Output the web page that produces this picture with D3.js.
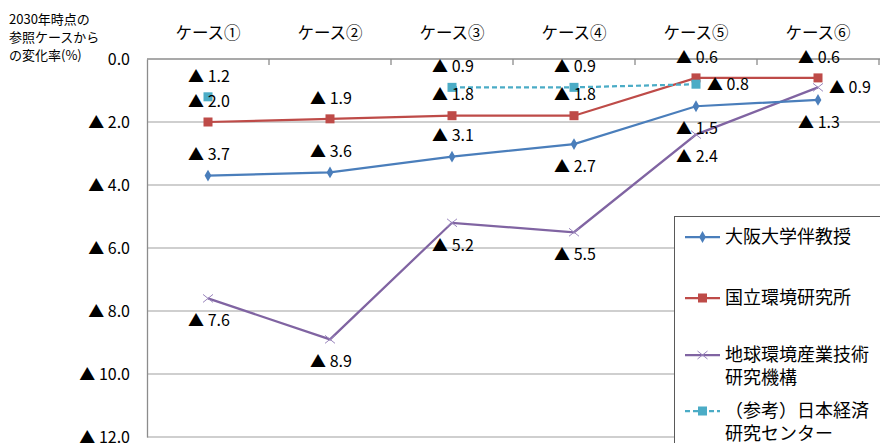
<!DOCTYPE html>
<html><head><meta charset="utf-8">
<script src="https://cdn.jsdelivr.net/npm/d3@7"></script>
<style>body{margin:0;background:#fff}svg{display:block}</style>
</head><body>
<script>
const categories = ["ケース①","ケース②","ケース③","ケース④","ケース⑤","ケース⑥"];
const osaka = [3.7, 3.6, 3.1, 2.7, 1.5, 1.3];
const nies = [2.0, 1.9, 1.8, 1.8, 0.6, 0.6];
const rite = [7.6, 8.9, 5.2, 5.5, 2.4, 0.9];
const jcer = [1.2, null, 0.9, 0.9, 0.8, null];
const yTicks = [0, 2, 4, 6, 8, 10, 12];
const seriesNames = [["大阪大学伴教授"],["国立環境研究所"],["地球環境産業技術","研究機構"],["（参考）日本経済","研究センター"]];
const axisTitle = ["2030年時点の","参照ケースから","の変化率(%)"];
// label placement (style only)
const labelPos = [
  ["a","a","a","b","b","b"],
  ["a","a","a","a","a","a"],
  ["b","b","b","b","b","r"],
  ["a",null,"a","a","r",null]
];

const W=880,H=443;
const FONT='"Noto Sans CJK JP","Noto Sans",sans-serif';
const svg=d3.select("body").append("svg").attr("width",W).attr("height",H).style("font-family",FONT);
const x=d3.scaleBand().domain(categories).range([147,879]);
const y=d3.scaleLinear().domain([0,12]).range([59,437]);
const cx=c=>x(c)+x.bandwidth()/2;
const fmt=v=>"▲ "+d3.format(".1f")(v);

// gridlines
svg.append("g").selectAll("line").data(yTicks.filter(t=>t>0)).join("line")
  .attr("x1",147).attr("x2",880).attr("y1",d=>y(d)).attr("y2",d=>y(d))
  .attr("stroke","#bfbfbf").attr("stroke-width",1.3);
// y axis
const yAxis=d3.axisLeft(y).tickValues(yTicks).tickSize(0).tickPadding(17).tickFormat(d=>d===0?"0.0":fmt(d));
const gy=svg.append("g").attr("transform","translate(147,0)").call(yAxis);
gy.select(".domain").attr("stroke","#8c8c8c").attr("stroke-width",1.3);
gy.selectAll("text").attr("font-size",16).attr("fill","#000").attr("font-family",FONT);
// top x axis (at 0)
svg.append("line").attr("x1",147).attr("x2",880).attr("y1",y(0)).attr("y2",y(0)).attr("stroke","#8c8c8c").attr("stroke-width",1.3);
svg.append("g").selectAll("line").data(categories.slice(1).concat(["end"])).join("line")
  .attr("x1",(d,i)=>x(categories[i])+x.bandwidth()).attr("x2",(d,i)=>x(categories[i])+x.bandwidth())
  .attr("y1",y(0)).attr("y2",y(0)+6).attr("stroke","#8c8c8c").attr("stroke-width",1.3);
// category labels
svg.append("g").selectAll("text").data(categories).join("text")
  .attr("x",d=>cx(d)).attr("y",39).attr("text-anchor","middle").attr("font-size",16.5).text(d=>d);
// axis title
svg.append("g").selectAll("text").data(axisTitle).join("text")
  .attr("x",9).attr("y",(d,i)=>24+i*18).attr("font-size",13).text(d=>d);

const series=[
  {vals:osaka,color:"#4a7ebb",marker:"diamond",dash:null},
  {vals:nies,color:"#be4b48",marker:"square",dash:null},
  {vals:rite,color:"#8064a2",marker:"x",dash:null},
  {vals:jcer,color:"#4bacc6",marker:"square",dash:"5,3"}
];
function drawMarker(g,type,color,px,py){
  if(type==="diamond") g.append("path").attr("d",d3.symbol(d3.symbolDiamond,40)()).attr("transform",`translate(${px},${py})`).attr("fill",color);
  else if(type==="square") g.append("rect").attr("x",px-4.5).attr("y",py-4.5).attr("width",9).attr("height",9).attr("fill",color);
  else if(type==="x") g.append("path").attr("d",`M${px-5},${py-4}L${px+5},${py+4}M${px-5},${py+4}L${px+5},${py-4}`).attr("stroke","#9a86bd").attr("stroke-width",1);
}
const line=d3.line().defined(d=>d.v!=null).x(d=>cx(d.c)).y(d=>y(d.v));
const order=[2,0,1,3];
order.forEach(si=>{
  const s=series[si];
  const pts=categories.map((c,i)=>({c,v:s.vals[i]}));
  const g=svg.append("g");
  g.append("path").datum(pts).attr("d",line).attr("fill","none").attr("stroke",s.color).attr("stroke-width",2.25)
    .attr("stroke-dasharray",s.dash);
  pts.forEach(p=>{ if(p.v!=null) drawMarker(g,s.marker,s.color,cx(p.c),y(p.v)); });
});
// data labels
const lg=svg.append("g").attr("font-size",16);
series.forEach((s,si)=>{
  s.vals.forEach((v,i)=>{
    if(v==null) return;
    const pos=labelPos[si][i];
    const px=cx(categories[i]), py=y(v);
    let tx=px+1, ty=py, anchor="middle";
    if(pos==="a") ty=py-21;
    else if(pos==="b") ty=py+22;
    else {tx=px+11; anchor="start";}
    lg.append("text").attr("x",tx).attr("y",ty).attr("dy","0.36em").attr("text-anchor",anchor).text(fmt(v));
  });
});
// legend
const leg=svg.append("g");
leg.append("rect").attr("x",674.5).attr("y",216.5).attr("width",220).attr("height",240).attr("fill","#fff").attr("stroke","#595959").attr("stroke-width",1);
const legY=[237,298,355,411];
series.forEach((s,si)=>{
  const yy=legY[si];
  leg.append("line").attr("x1",685).attr("x2",720).attr("y1",yy).attr("y2",yy).attr("stroke",s.color).attr("stroke-width",2.25).attr("stroke-dasharray",s.dash);
  drawMarker(leg,s.marker,s.color,702.5,yy);
  seriesNames[si].forEach((t,k)=>{
    leg.append("text").attr("x",725).attr("y",yy+k*22.5).attr("dy","0.36em").attr("font-size",18).text(t);
  });
});
</script>
</body></html>
